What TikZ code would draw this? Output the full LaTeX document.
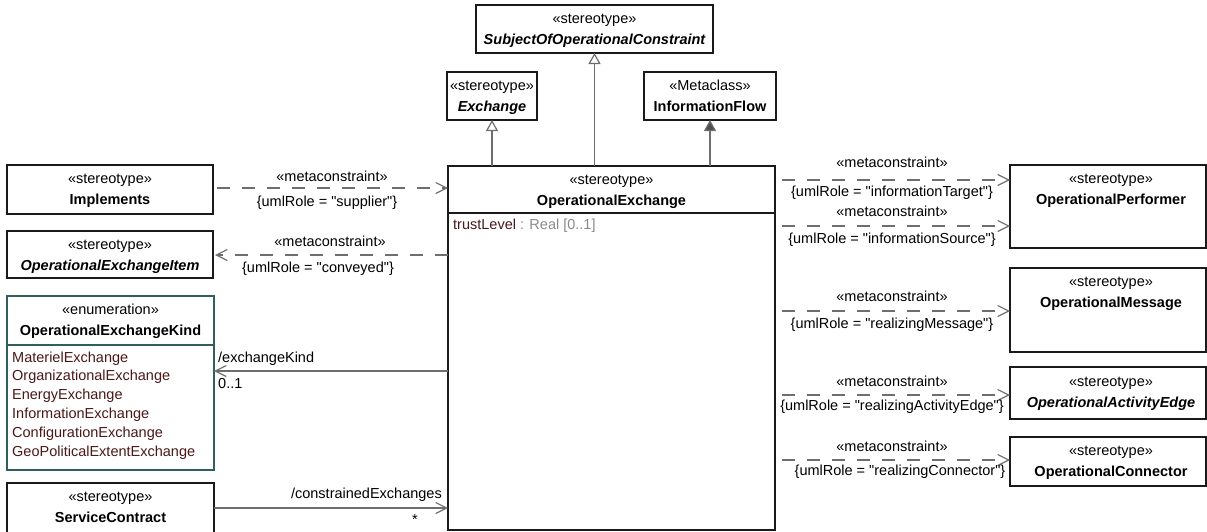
\documentclass[tikz,border=0pt]{standalone}
\usepackage{fontspec}
\setmainfont{Liberation Sans}[Ligatures=TeXOff]
\usetikzlibrary{arrows.meta,calc}
\definecolor{lineg}{HTML}{6E6E6E}
\definecolor{boxk}{HTML}{1A1A1A}
\definecolor{enumc}{HTML}{2F5F5F}
\definecolor{litc}{HTML}{4A1818}
\definecolor{typec}{HTML}{8A8A8A}
\newcommand\dfont{\fontsize{14.5}{17}\selectfont}
\begin{document}
\begin{tikzpicture}[x=1pt,y=-1pt,
 umlbox/.style={draw=boxk, line width=1.4pt, inner sep=0pt, outer sep=0pt, anchor=north west, fill=white},
 tx/.style={font=\dfont, inner sep=0pt, anchor=base},
 txl/.style={tx, anchor=base west},
 txr/.style={tx, anchor=base east},
 nm/.style={tx, font=\dfont\bfseries},
 nmi/.style={tx, font=\dfont\bfseries\itshape},
 lit/.style={txl, text=litc},
 dep/.style={draw=lineg, line width=1.2pt, dash pattern=on 13pt off 12pt, -{Straight Barb[length=11pt,width=11pt]}},
 assoc/.style={draw=lineg, line width=1.2pt, -{Straight Barb[length=11pt,width=11pt]}},
 gen/.style={draw=lineg, line width=1.2pt, -{Triangle[open,length=11pt,width=12pt,fill=white]}},
 genf/.style={draw=lineg, line width=1.2pt, -{Triangle[length=11pt,width=12pt,fill=lineg!70!black]}},
]
\useasboundingbox (0,0) rectangle (1207,531);

% top boxes
\node[umlbox, minimum width=237pt, minimum height=48pt] (subj) at (476,5) {};
\node[tx] (subjS) at (594.5,23) {«stereotype»};
\node[nmi] (subjN) at (594.5,44) {SubjectOfOperationalConstraint};

\node[umlbox, minimum width=90pt, minimum height=48pt] (exch) at (447,72) {};
\node[tx] (exchS) at (492,90) {«stereotype»};
\node[nmi] (exchN) at (492,111) {Exchange};

\node[umlbox, minimum width=132pt, minimum height=48pt] (info) at (644,72) {};
\node[tx] (infoS) at (710,90) {«Metaclass»};
\node[nm] (infoN) at (710,111) {InformationFlow};

% central box
\node[umlbox, minimum width=327pt, minimum height=364pt] (oe) at (448,166) {};
\node[tx] (oeS) at (611.5,184) {«stereotype»};
\node[nm] (oeN) at (611.5,205) {OperationalExchange};
\draw[draw=boxk, line width=1.4pt] (oe.west |- 0,213) -- (oe.east |- 0,213);
\node[txl] (oeA) at (453,229) {\textcolor{litc}{trustLevel}\textcolor{typec}{\ : Real [0..1]}};

% left boxes
\node[umlbox, minimum width=206pt, minimum height=49pt] (impl) at (7,165) {};
\node[tx] (implS) at (110,183) {«stereotype»};
\node[nm] (implN) at (110,204) {Implements};

\node[umlbox, minimum width=206pt, minimum height=47pt] (item) at (7,231) {};
\node[tx] (itemS) at (110,249) {«stereotype»};
\node[nmi] (itemN) at (110,270) {OperationalExchangeItem};

\node[umlbox, draw=enumc, line width=1.2pt, minimum width=207pt, minimum height=174pt] (enum) at (7,296) {};
\node[tx] (enumS) at (110.5,314) {«enumeration»};
\node[nm] (enumN) at (110.5,335) {OperationalExchangeKind};
\draw[draw=enumc, line width=1.2pt] (enum.west |- 0,345) -- (enum.east |- 0,345);
\node[lit] (l1) at (12,362) {MaterielExchange};
\node[lit] (l2) at (12,380.8) {OrganizationalExchange};
\node[lit] (l3) at (12,399.6) {EnergyExchange};
\node[lit] (l4) at (12,418.4) {InformationExchange};
\node[lit] (l5) at (12,437.2) {ConfigurationExchange};
\node[lit] (l6) at (12,456) {GeoPoliticalExtentExchange};

\node[umlbox, minimum width=207pt, minimum height=70pt] (sc) at (7,483) {};
\node[tx] (scS) at (110.5,501) {«stereotype»};
\node[nm] (scN) at (110.5,522) {ServiceContract};

% right boxes
\node[umlbox, minimum width=196pt, minimum height=83pt] (perf) at (1010,165) {};
\node[tx] (perfS) at (1111,183.5) {«stereotype»};
\node[nm] (perfN) at (1111,204) {OperationalPerformer};

\node[umlbox, minimum width=196pt, minimum height=84pt] (msg) at (1010,268) {};
\node[tx] (msgS) at (1111,286) {«stereotype»};
\node[nm] (msgN) at (1111,307) {OperationalMessage};

\node[umlbox, minimum width=196pt, minimum height=52pt] (edge) at (1010,367) {};
\node[tx] (edgeS) at (1111,386) {«stereotype»};
\node[nmi] (edgeN) at (1111,407) {OperationalActivityEdge};

\node[umlbox, minimum width=196pt, minimum height=49pt] (conn) at (1010,437) {};
\node[tx] (connS) at (1111,455) {«stereotype»};
\node[nm] (connN) at (1111,476) {OperationalConnector};

% generalizations
\draw[gen] (oe.north -| exch.south) -- (exch.south);
\draw[gen] (oe.north -| subj.south) -- (subj.south);
\draw[genf] (oe.north -| info.south) -- (info.south);

% left connectors
\draw[dep, shorten <=4pt] (impl.east |- 0,188) -- (oe.west |- 0,188);
\node[tx] (l1a) at (332,181) {«metaconstraint»};
\node[tx] (l1b) at (327,206) {\{umlRole = "supplier"\}};

\draw[dep, shorten >=2pt] (oe.west |- 0,255) -- (item.east |- 0,255);
\node[tx] (l2a) at (330,246) {«metaconstraint»};
\node[tx] (l2b) at (318,272) {\{umlRole = "conveyed"\}};

\draw[assoc] (oe.west |- 0,371) -- (enum.east |- 0,371);
\node[txl] (ekA) at (218,362) {/exchangeKind};
\node[txl] (ekB) at (218,388) {0..1};

\draw[assoc] (sc.east |- 0,508) -- (oe.west |- 0,508);
\node[txr] (ceA) at (442,498) {/constrainedExchanges};
\node[tx] (ceB) at (415,524) {*};

% right connectors
\draw[dep, shorten <=7pt] (oe.east |- 0,180) -- (perf.west |- 0,180);
\node[tx] (r1a) at (892,167) {«metaconstraint»};
\node[tx] (r1b) at (892,196.5) {\{umlRole = "informationTarget"\}};

\draw[dep, shorten <=7pt] (oe.east |- 0,226) -- (perf.west |- 0,226);
\node[tx] (r2a) at (892,216.5) {«metaconstraint»};
\node[tx] (r2b) at (892,243.5) {\{umlRole = "informationSource"\}};

\draw[dep, shorten <=7pt] (oe.east |- 0,311) -- (msg.west |- 0,311);
\node[tx] (r3a) at (892,301.5) {«metaconstraint»};
\node[tx] (r3b) at (892,328) {\{umlRole = "realizingMessage"\}};

\draw[dep, shorten <=7pt] (oe.east |- 0,395) -- (edge.west |- 0,395);
\node[tx] (r4a) at (892,386.5) {«metaconstraint»};
\node[tx] (r4b) at (892,410.5) {\{umlRole = "realizingActivityEdge"\}};

\draw[dep, shorten <=7pt] (oe.east |- 0,460) -- (conn.west |- 0,460);
\node[tx] (r5a) at (892,451.5) {«metaconstraint»};
\node[tx] (r5b) at (900,475.5) {\{umlRole = "realizingConnector"\}};
\end{tikzpicture}
\end{document}
